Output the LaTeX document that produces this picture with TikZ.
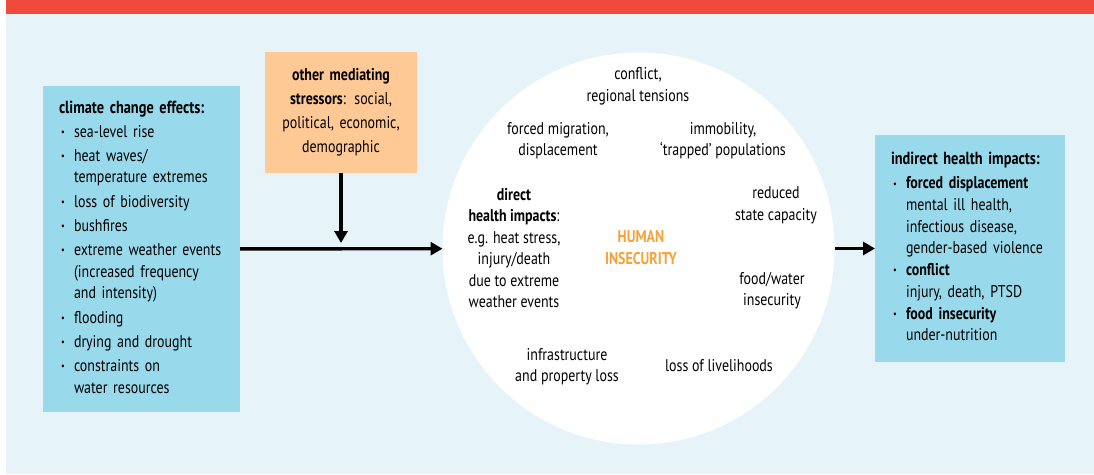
\documentclass[tikz,border=0pt]{standalone}
\usepackage{fontspec}
\setmainfont{PT Sans}[FakeStretch=0.82]
\usetikzlibrary{arrows.meta}
\definecolor{barred}{HTML}{F04A3A}
\definecolor{bgblue}{HTML}{E6F4FA}
\definecolor{boxblue}{HTML}{99D9EC}
\definecolor{boxorange}{HTML}{FFC996}
\definecolor{insecorange}{HTML}{F7A13B}
\def\bul#1{\par\vspace{2.5pt}\noindent\makebox[15pt][l]{\hspace{2pt}\raisebox{2pt}{\fontsize{10}{10}\selectfont •}}\parbox[t]{150pt}{\raggedright #1\strut}}
\tikzset{
	box/.style={inner xsep=16pt, inner ysep=4pt, outer sep=0pt, align=left, font=\fontsize{17}{21.5}\selectfont},
	txt/.style={align=center, inner sep=0pt, font=\fontsize{17}{21.5}\selectfont},
	arrow/.style={line width=3.4pt, -{Triangle[length=12pt,width=13pt]}}
}

\begin{document}
\begin{tikzpicture}[x=1pt, y=-1pt]
		%%%%% START %%%%%
		\useasboundingbox (0, 0) rectangle (1094, 474);
		\fill[barred] (6, 0) rectangle (1094, 14);
		\fill[bgblue] (6, 14) rectangle (1094, 474);
		
		\node[box, fill=boxblue, text width=165pt, minimum height=326pt] (climate) at (141.5, 249) {%
			{\fontsize{17.5}{21.5}\selectfont\bfseries climate change effects:\strut}
			\bul{sea-level rise}
			\bul{heat waves/\\temperature extremes}
			\bul{loss of biodiversity}
			\bul{bushfires}
			\bul{extreme weather events\\(increased frequency\\and intensity)}
			\bul{flooding}
			\bul{drying and drought}
			\bul{constraints on\\water resources}};
		
		\node[box, fill=boxorange, align=center, inner xsep=8pt, text width=136pt, minimum height=121pt, font=\fontsize{17}{24}\selectfont] (stress) at (341, 112.5) {{\bfseries other mediating\\stressors}: social,\\political, economic,\\demographic};
		
		\node[circle, fill=white, minimum size=392pt, inner sep=0pt, outer sep=0pt] (insec) at (638.5, 248.5) {};
		
		\node[txt] (conflict) at (638, 86) {conflict,\\regional tensions};
		\node[txt] (migration) at (558, 140.5) {forced migration,\\displacement};
		\node[txt] (immobility) at (723, 140.5) {immobility,\\‘trapped’ populations};
		\node[txt] (direct) at (514, 248) {{\bfseries direct}\\{\bfseries health impacts}:\\e.g. heat stress,\\injury/death\\due to extreme\\weather events};
		\node[txt, text=insecorange, font=\fontsize{17}{21.5}\selectfont\bfseries] (human) at (641, 247.5) {HUMAN\\INSECURITY};
		\node[txt] (state) at (776, 205.5) {reduced\\state capacity};
		\node[txt] (food) at (772, 290.5) {food/water\\insecurity};
		\node[txt] (infra) at (567, 366.5) {infrastructure\\and property loss};
		\node[txt] (livelihood) at (719, 366) {loss of livelihoods};
		
		\node[box, fill=boxblue, text width=158pt, minimum height=227pt] (indirect) at (970, 248.5) {%
			{\fontsize{17.5}{21.5}\selectfont\bfseries indirect health impacts:\strut}
			\bul{{\bfseries forced displacement}\\mental ill health,\\infectious disease,\\gender-based violence}
			\bul{{\bfseries conflict}\\injury, death, PTSD}
			\bul{{\bfseries food insecurity}\\under-nutrition}};
		
		\coordinate (join) at (341, 243);
		\draw[arrow] (climate) -- (insec);
		\draw[arrow] (stress) -- (join);
		\draw[arrow] (insec) -- (indirect);
		%%%%% END %%%%%
	\end{tikzpicture}
\end{document}
